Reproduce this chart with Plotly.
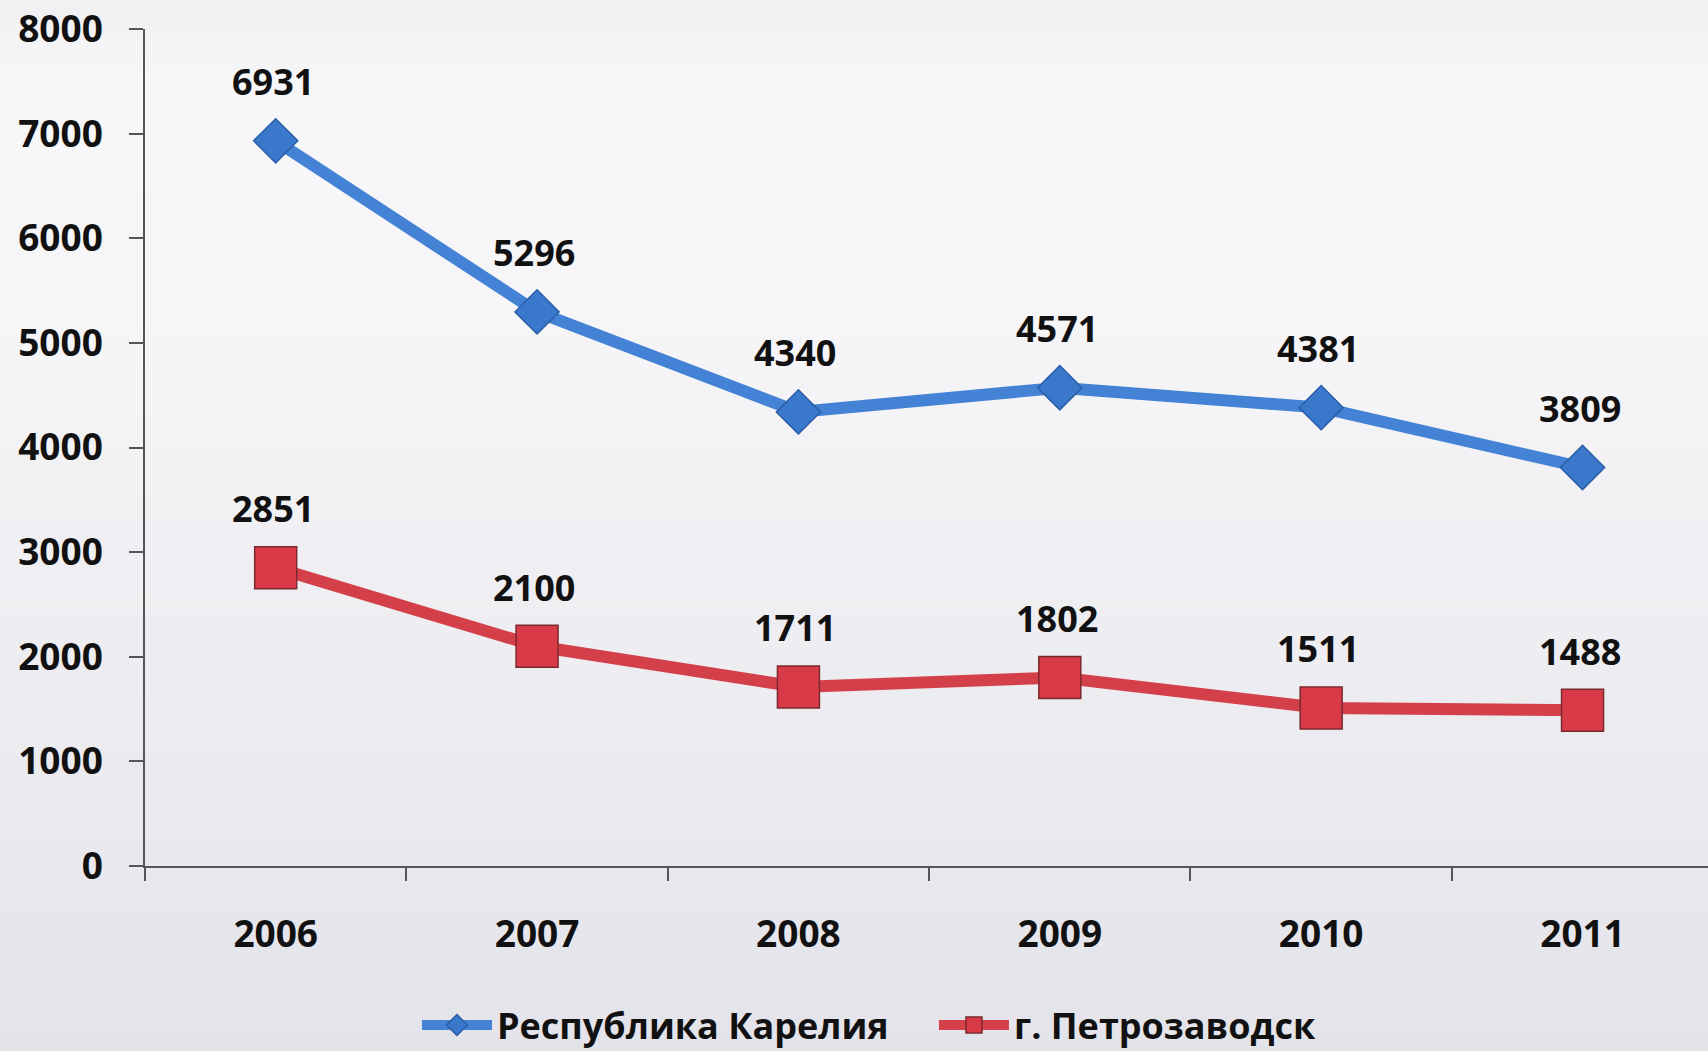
import plotly.graph_objects as go

years = ["2006", "2007", "2008", "2009", "2010", "2011"]
karelia = [6931, 5296, 4340, 4571, 4381, 3809]
petrozavodsk = [2851, 2100, 1711, 1802, 1511, 1488]
y_ticks = [0, 1000, 2000, 3000, 4000, 5000, 6000, 7000, 8000]

FONT = "Open Sans"
W, H = 1708, 1051
ML, MR, MT, MB = 145, 0, 29, 185
PH = H - MT - MB

fig = go.Figure()

fig.add_trace(go.Scatter(
    x=years, y=karelia, name="Республика Карелия", mode="lines+markers",
    line=dict(color="#4482d6", width=12),
    marker=dict(symbol="diamond", size=34, color="#3a78cc",
                line=dict(color="#2a5ea6", width=1.5)),
))
fig.add_trace(go.Scatter(
    x=years, y=petrozavodsk, name="г. Петрозаводск", mode="lines+markers",
    line=dict(color="#d4404a", width=12),
    marker=dict(symbol="square", size=42, color="#d83a47",
                line=dict(color="#7a2a2e", width=1.5)),
))

for series in (karelia, petrozavodsk):
    for i, yv in enumerate(series):
        fig.add_annotation(
            x=i, y=yv, xref="x", yref="y", text="<b>%d</b>" % yv,
            showarrow=False, yshift=59, xshift=-3,
            font=dict(family=FONT, size=36, color="#111111"),
        )

# vertical gradient background
stops = [(0.0, (240, 240, 243)), (0.08, (247, 247, 249)), (0.3, (246, 246, 248)),
         (1.0, (227, 227, 234))]

def col_at(t):
    for (t0, c0), (t1, c1) in zip(stops[:-1], stops[1:]):
        if t0 <= t <= t1:
            f = (t - t0) / (t1 - t0) if t1 > t0 else 0
            return tuple(round(a + (b - a) * f) for a, b in zip(c0, c1))
    return stops[-1][1]

n = 60
for i in range(n):
    t0 = i / n
    t1 = (i + 1) / n
    c = col_at((t0 + t1) / 2)
    top = 1 + MT / PH
    fig.add_shape(type="rect", xref="paper", yref="paper",
                  x0=-0.2, x1=1.1, y0=top - t1 * H / PH - 0.001, y1=top - t0 * H / PH + 0.001,
                  fillcolor="rgb(%d,%d,%d)" % c, line=dict(width=0), layer="below")

fig.update_layout(
    width=W, height=H,
    margin=dict(l=ML, r=MR, t=MT, b=MB, pad=0, autoexpand=False),
    paper_bgcolor="rgb(230,230,236)",
    plot_bgcolor="rgba(0,0,0,0)",
    showlegend=True,
    legend=dict(orientation="h", x=0.174, y=-0.19, xanchor="left", yanchor="middle",
                font=dict(family=FONT, size=36, color="#111111", weight="bold"),
                bgcolor="rgba(0,0,0,0)", itemwidth=70, tracegroupgap=0,
                entrywidth=432),
    font=dict(family=FONT, color="#111111"),
)

fig.update_xaxes(
    type="category", range=[-0.5, 5.48], tickson="boundaries",
    ticks="outside", ticklen=13, tickwidth=1.5, tickcolor="#555555",
    showline=True, linecolor="#555555", linewidth=1.5,
    showgrid=False, zeroline=False,
    tickfont=dict(family=FONT, size=37, color="#111111", weight="bold"),
    ticklabelstandoff=35,
)
fig.update_yaxes(
    range=[0, 8000], tickvals=y_ticks, ticktext=[str(v) for v in y_ticks],
    ticks="outside", ticklen=14, tickwidth=1.5, tickcolor="#555555",
    showline=True, linecolor="#555555", linewidth=1.5,
    showgrid=False, zeroline=False,
    tickfont=dict(family=FONT, size=37, color="#111111", weight="bold"),
    ticklabelstandoff=19,
)

fig.write_html("out.html", config={"displayModeBar": False},
               post_script="document.body.style.margin='0';")
